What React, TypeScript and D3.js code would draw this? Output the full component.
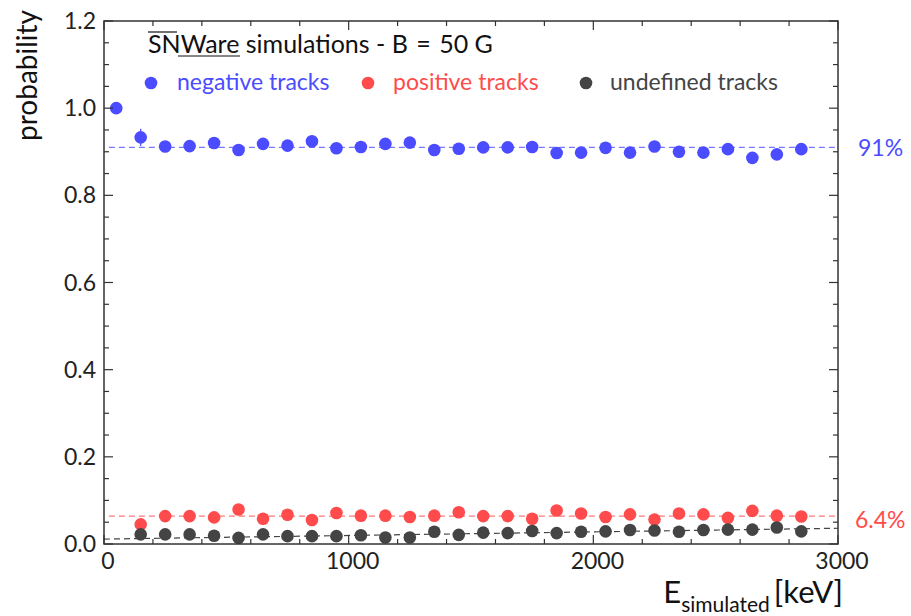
import React from "react";
import * as d3 from "d3";

const energyNeg = [50, 150, 250, 350, 450, 550, 650, 750, 850, 950, 1050, 1150, 1250, 1350, 1450, 1550, 1650, 1750, 1850, 1950, 2050, 2150, 2250, 2350, 2450, 2550, 2650, 2750, 2850];
const negative = [1.0, 0.933, 0.912, 0.913, 0.92, 0.904, 0.918, 0.914, 0.924, 0.908, 0.911, 0.918, 0.921, 0.904, 0.907, 0.91, 0.91, 0.911, 0.897, 0.898, 0.909, 0.898, 0.912, 0.9, 0.898, 0.906, 0.886, 0.894, 0.906];
const negativeErr = [0.0, 0.02, 0.004, 0.004, 0.004, 0.004, 0.004, 0.004, 0.004, 0.004, 0.004, 0.004, 0.004, 0.004, 0.004, 0.004, 0.004, 0.004, 0.004, 0.004, 0.004, 0.004, 0.004, 0.004, 0.004, 0.004, 0.004, 0.004, 0.004];

const energyPU = [150, 250, 350, 450, 550, 650, 750, 850, 950, 1050, 1150, 1250, 1350, 1450, 1550, 1650, 1750, 1850, 1950, 2050, 2150, 2250, 2350, 2450, 2550, 2650, 2750, 2850];
const positive = [0.045, 0.064, 0.064, 0.061, 0.079, 0.058, 0.067, 0.055, 0.071, 0.065, 0.065, 0.062, 0.065, 0.073, 0.064, 0.064, 0.058, 0.077, 0.07, 0.062, 0.068, 0.056, 0.07, 0.068, 0.06, 0.076, 0.065, 0.063];
const undefinedTracks = [0.022, 0.022, 0.022, 0.019, 0.014, 0.022, 0.018, 0.018, 0.018, 0.02, 0.015, 0.015, 0.028, 0.021, 0.026, 0.025, 0.03, 0.025, 0.028, 0.029, 0.032, 0.031, 0.028, 0.032, 0.033, 0.033, 0.038, 0.029];

const fitNeg = [[20, 0.91], [3000, 0.91]];
const fitPos = [[20, 0.064], [3000, 0.064]];
const fitUnd = [[0, 0.0113], [3000, 0.0361]];

const xTicks = [0, 1000, 2000, 3000];
const yTicks = [0, 0.2, 0.4, 0.6, 0.8, 1.0, 1.2];

const BLUE = "#4b4bff";
const RED = "#ff4b4b";
const DARK = "#444444";
const FONT = "Lato, 'DejaVu Sans', sans-serif";

export default function App() {
  const W = 911, H = 616;
  const L = 104, R = 838, T = 21, B = 544;
  const x = d3.scaleLinear().domain([0, 3000]).range([L, R]);
  const y = d3.scaleLinear().domain([0, 1.2]).range([B, T]);
  const line = d3.line<number[]>().x(d => x(d[0])).y(d => y(d[1]));

  const xMinor = d3.range(0, 3001, 200);
  const yMinor = d3.range(0, 1.2001, 0.05);
  const majLen = 9, minLen = 5;
  const isMajX = (v: number) => Math.abs(v % 1000) < 1e-6;
  const isMajY = (v: number) => Math.abs(Math.round(v * 5) - v * 5) < 1e-6;

  return (
    <div style={{ position: "fixed", left: 0, top: 0 }}>
      <svg width={W} height={H} style={{ display: "block", background: "#fff" }}>
        {/* fit lines */}
        <path d={line(fitNeg) || ""} stroke={BLUE} strokeOpacity={0.75} strokeWidth={1.2} strokeDasharray="6,4" fill="none" />
        <path d={line(fitPos) || ""} stroke={RED} strokeOpacity={0.75} strokeWidth={1.2} strokeDasharray="6,4" fill="none" />
        <path d={line(fitUnd) || ""} stroke={DARK} strokeWidth={1.2} strokeDasharray="6,4" fill="none" />

        {/* error bars */}
        {energyNeg.map((e, i) => (
          <line key={"eb" + i} x1={x(e)} x2={x(e)} y1={y(negative[i] - negativeErr[i])} y2={y(negative[i] + negativeErr[i])} stroke={BLUE} strokeWidth={1.2} />
        ))}
        {/* points */}
        {energyNeg.map((e, i) => (
          <circle key={"n" + i} cx={x(e)} cy={y(negative[i])} r={6.3} fill={BLUE} />
        ))}
        {energyPU.map((e, i) => (
          <circle key={"p" + i} cx={x(e)} cy={y(positive[i])} r={6.3} fill={RED} />
        ))}
        {energyPU.map((e, i) => (
          <circle key={"u" + i} cx={x(e)} cy={y(undefinedTracks[i])} r={6.3} fill={DARK} />
        ))}

        {/* frame */}
        <rect x={L} y={T} width={R - L} height={B - T} fill="none" stroke="#333" strokeWidth={1.5} />
        {xMinor.map((v, i) => {
          const len = isMajX(v) ? majLen : minLen;
          return (
            <g key={"xt" + i} stroke="#333" strokeWidth={1.2}>
              <line x1={x(v)} x2={x(v)} y1={B} y2={B - len} />
              <line x1={x(v)} x2={x(v)} y1={T} y2={T + len} />
            </g>
          );
        })}
        {yMinor.map((v, i) => {
          const len = isMajY(v) ? majLen : minLen;
          return (
            <g key={"yt" + i} stroke="#333" strokeWidth={1.2}>
              <line x1={L} x2={L + len} y1={y(v)} y2={y(v)} />
              <line x1={R} x2={R - len} y1={y(v)} y2={y(v)} />
            </g>
          );
        })}

        {/* tick labels */}
        {xTicks.map((v, i) => (
          <text key={"xl" + i} x={x(v) + 4} y={B + 25} textAnchor="middle" fontFamily={FONT} fontSize={23} fill="#222">{v}</text>
        ))}
        {yTicks.map((v, i) => (
          <text key={"yl" + i} x={L - 8} y={y(v) + 8} textAnchor="end" fontFamily={FONT} fontSize={23} fill="#222">{v.toFixed(1)}</text>
        ))}

        {/* axis titles */}
        <text transform={`translate(37,10) rotate(-90)`} textAnchor="end" fontFamily={FONT} fontSize={28} fill="#111">probability</text>
        <text x={843} y={603} textAnchor="end" fontFamily={FONT} fill="#111">
          <tspan fontSize={31}>E</tspan>
          <tspan fontSize={21} dy={9}>simulated</tspan>
          <tspan fontSize={31} dy={-9} dx={4}>[keV]</tspan>
        </text>

        {/* title */}
        <text x={148} y={53} fontFamily={FONT} fontSize={25} fill="#111">
          <tspan>SN</tspan><tspan>Ware</tspan><tspan> simulations - B </tspan><tspan dx={2}>=</tspan><tspan dx={2}> 50 G</tspan>
        </text>
        <line x1={148} x2={177} y1={32} y2={32} stroke="#111" strokeWidth={1.2} />
        <line x1={178} x2={240} y1={56} y2={56} stroke="#111" strokeWidth={1.2} />

        {/* legend */}
        <circle cx={151} cy={83} r={6.3} fill={BLUE} />
        <text x={177} y={90} fontFamily={FONT} fontSize={23} fill={BLUE}>negative tracks</text>
        <circle cx={368} cy={83} r={6.3} fill={RED} />
        <text x={393} y={90} fontFamily={FONT} fontSize={23} fill={RED}>positive tracks</text>
        <circle cx={586} cy={83} r={6.3} fill={DARK} />
        <text x={610} y={90} fontFamily={FONT} fontSize={23} fill={DARK}>undefined tracks</text>

        {/* fit annotations */}
        <text x={858} y={156} fontFamily={FONT} fontSize={23} fill={BLUE}>91%</text>
        <text x={855} y={528} fontFamily={FONT} fontSize={23} fill={RED}>6.4%</text>
      </svg>
    </div>
  );
}
